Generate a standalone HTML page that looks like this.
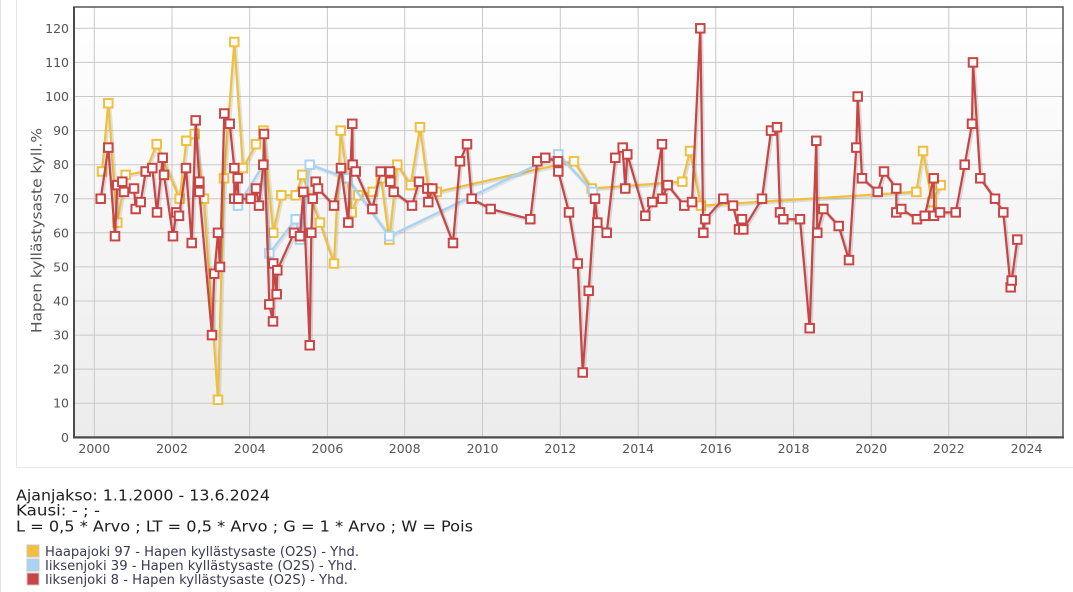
<!DOCTYPE html>
<html><head><meta charset="utf-8"><style>
html,body{margin:0;padding:0;background:#fff;}
svg{display:block;font-family:"DejaVu Sans","Liberation Sans",sans-serif;}
</style></head><body>
<svg width="1073" height="592" viewBox="0 0 1073 592" xmlns="http://www.w3.org/2000/svg">
<defs>
<linearGradient id="bg" x1="0" y1="0" x2="0" y2="1">
<stop offset="0" stop-color="#ffffff"/><stop offset="1" stop-color="#ececec"/>
</linearGradient>
<marker id="my" markerWidth="14" markerHeight="14" refX="7" refY="7" markerUnits="userSpaceOnUse" overflow="visible"><rect x="2.75" y="2.75" width="8.5" height="8.5" fill="#fff" stroke="#efbf3d" stroke-width="2"/></marker>
<marker id="mb" markerWidth="14" markerHeight="14" refX="7" refY="7" markerUnits="userSpaceOnUse" overflow="visible"><rect x="2.75" y="2.75" width="8.5" height="8.5" fill="#fff" stroke="#a9d3f3" stroke-width="2"/></marker>
<marker id="mr" markerWidth="14" markerHeight="14" refX="7" refY="7" markerUnits="userSpaceOnUse" overflow="visible"><rect x="2.75" y="2.75" width="8.5" height="8.5" fill="#fff" stroke="#c94545" stroke-width="2"/></marker>
</defs>
<!-- container borders -->
<line x1="0.5" y1="0" x2="0.5" y2="592" stroke="#e2e2e2" stroke-width="1"/>
<line x1="16.5" y1="0" x2="16.5" y2="467.5" stroke="#e6e6e6" stroke-width="1"/>
<line x1="16" y1="467.5" x2="1073" y2="467.5" stroke="#e6e6e6" stroke-width="1"/>
<!-- plot bg -->
<rect x="74" y="7" width="989" height="430" fill="url(#bg)"/>
<!-- grid -->
<g stroke="#c9c9c9" stroke-width="1">
<line x1="74" x2="1063" y1="28.3" y2="28.3"/>
<line x1="74" x2="1063" y1="62.4" y2="62.4"/>
<line x1="74" x2="1063" y1="96.5" y2="96.5"/>
<line x1="74" x2="1063" y1="130.6" y2="130.6"/>
<line x1="74" x2="1063" y1="164.7" y2="164.7"/>
<line x1="74" x2="1063" y1="198.7" y2="198.7"/>
<line x1="74" x2="1063" y1="232.8" y2="232.8"/>
<line x1="74" x2="1063" y1="266.9" y2="266.9"/>
<line x1="74" x2="1063" y1="301.0" y2="301.0"/>
<line x1="74" x2="1063" y1="335.1" y2="335.1"/>
<line x1="74" x2="1063" y1="369.1" y2="369.1"/>
<line x1="74" x2="1063" y1="403.2" y2="403.2"/>
<line x1="94.3" x2="94.3" y1="7" y2="437"/>
<line x1="172" x2="172" y1="7" y2="437"/>
<line x1="249.7" x2="249.7" y1="7" y2="437"/>
<line x1="327.4" x2="327.4" y1="7" y2="437"/>
<line x1="404.7" x2="404.7" y1="7" y2="437"/>
<line x1="482.5" x2="482.5" y1="7" y2="437"/>
<line x1="560.3" x2="560.3" y1="7" y2="437"/>
<line x1="638.2" x2="638.2" y1="7" y2="437"/>
<line x1="715.8" x2="715.8" y1="7" y2="437"/>
<line x1="793.5" x2="793.5" y1="7" y2="437"/>
<line x1="871.3" x2="871.3" y1="7" y2="437"/>
<line x1="948.8" x2="948.8" y1="7" y2="437"/>
<line x1="1026.5" x2="1026.5" y1="7" y2="437"/>
</g>
<!-- frame -->
<rect x="74" y="7" width="989" height="430" fill="none" stroke="#555" stroke-width="1.5"/>
<line x1="74" y1="6.5" x2="74" y2="438" stroke="#4a4a4a" stroke-width="2"/>
<line x1="73" y1="437.5" x2="1064" y2="437.5" stroke="#4a4a4a" stroke-width="2"/>

<!-- Yellow series -->
<g fill="none" stroke-linejoin="round" stroke-linecap="round">
<path transform="translate(1,1)" stroke="rgba(0,0,0,0.10)" stroke-width="4" d="M102 171.5 L108.3 103.3 L117.3 222.6 L125.7 174.9 L145.7 171.5 L156.7 144.2 L179.7 198.7 L186.3 140.8 L194.7 134 L204 198.7 L218 399.8 L224 178.3 L234.3 42 L243 168.1 L256 144.2 L263.3 130.6 L273.3 232.8 L281.3 195.3 L295.7 195.3 L302.3 174.9 L320 222.6 L334 263.5 L340.7 130.6 L351.7 212.4 L358.3 195.3 L372.7 191.9 L381 178.3 L389.3 239.6 L397.3 164.7 L410.7 185.1 L420 127.2 L428.3 188.5 L436.7 191.9 L558.3 164.7 L574 161.3 L591.7 188.5 L682.3 181.7 L690 151 L701 205.6 L916.3 191.9 L923 151 L932 202.1 L940.7 185.1"/>
<path stroke="#efbf3d" stroke-width="2.2" marker-start="url(#my)" marker-mid="url(#my)" marker-end="url(#my)" d="M102 171.5 L108.3 103.3 L117.3 222.6 L125.7 174.9 L145.7 171.5 L156.7 144.2 L179.7 198.7 L186.3 140.8 L194.7 134 L204 198.7 L218 399.8 L224 178.3 L234.3 42 L243 168.1 L256 144.2 L263.3 130.6 L273.3 232.8 L281.3 195.3 L295.7 195.3 L302.3 174.9 L320 222.6 L334 263.5 L340.7 130.6 L351.7 212.4 L358.3 195.3 L372.7 191.9 L381 178.3 L389.3 239.6 L397.3 164.7 L410.7 185.1 L420 127.2 L428.3 188.5 L436.7 191.9 L558.3 164.7 L574 161.3 L591.7 188.5 L682.3 181.7 L690 151 L701 205.6 L916.3 191.9 L923 151 L932 202.1 L940.7 185.1"/>
</g>

<!-- Blue series -->
<g fill="none" stroke-linejoin="round" stroke-linecap="round">
<path transform="translate(1,1)" stroke="rgba(0,0,0,0.08)" stroke-width="4" d="M238 205.6 L263.3 164.7 L269.3 253.3 L295.7 219.2 L300 239.6 L309.7 164.7 L347.3 178.3 L389.3 236.2 L558.3 154.4 L593 191.9"/>
<path stroke="#a9d3f3" stroke-width="2.4" marker-start="url(#mb)" marker-mid="url(#mb)" marker-end="url(#mb)" d="M238 205.6 L263.3 164.7 L269.3 253.3 L295.7 219.2 L300 239.6 L309.7 164.7 L347.3 178.3 L389.3 236.2 L558.3 154.4 L593 191.9"/>
</g>

<!-- Red series -->
<g fill="none" stroke-linejoin="round" stroke-linecap="round">
<path transform="translate(1,1)" stroke="rgba(0,0,0,0.12)" stroke-width="4" d="M100.7 198.7 L108.3 147.6 L115 236.2 L117.3 185.1 L122.3 181.7 L124 191.9 L134 188.5 L135.7 209 L140.7 202.1 L145.7 171.5 L152.3 168.1 L157 212.4 L162.7 157.8 L164 174.9 L173 236.2 L176.3 212.4 L179 215.8 L186 168.1 L191.7 243 L195.7 120.4 L199.3 181.7 L199.3 191.9 L212 335.1 L214.3 273.7 L218 232.8 L220 266.9 L224.3 113.5 L229.7 123.8 L234.3 168.1 L234.3 198.7 L237.7 178.3 L238.3 198.7 L250.7 198.7 L256 188.5 L259 205.6 L263.3 164.7 L264 134 L269.3 304.4 L273 321.4 L273.3 263.5 L276.7 294.2 L277.3 270.3 L294 232.8 L300 236.2 L303.3 191.9 L309.7 345.3 L311.3 232.8 L312.7 198.7 L315.7 181.7 L318 188.5 L334 205.6 L341 168.1 L348.3 222.6 L352.3 123.8 L352.7 164.7 L355.7 171.5 L372.3 209 L380.7 171.5 L390 171.5 L390.3 181.7 L393.7 191.9 L412 205.6 L419 181.7 L427.3 188.5 L428.3 202.1 L432.3 188.5 L453 243 L460 161.3 L467 144.2 L471.7 198.7 L490.7 209 L530.3 219.2 L537.3 161.3 L545.3 157.8 L558 161.3 L558.3 171.5 L569 212.4 L577.7 263.5 L582.7 372.5 L588.7 290.8 L595 198.7 L597.3 222.6 L606.7 232.8 L615.3 157.8 L622.7 147.6 L625.3 188.5 L627.3 154.4 L645.3 215.8 L652.3 202.1 L662 144.2 L662.3 198.7 L667.7 185.1 L684.3 205.6 L692 202.1 L700.3 28.3 L703.3 232.8 L705.3 219.2 L723.3 198.7 L733 205.6 L739 229.4 L742 219.2 L743.3 229.4 L762 198.7 L771 130.6 L777 127.2 L780 212.4 L783.3 219.2 L800 219.2 L809.7 328.2 L816.3 140.8 L817.3 232.8 L823.3 209 L838.7 226 L849 260.1 L856.3 147.6 L857.7 96.5 L862 178.3 L877.7 191.9 L884 171.5 L896.3 188.5 L896.3 212.4 L901.3 209 L917 219.2 L924.7 215.8 L933.7 178.3 L934 215.8 L940 212.4 L955.7 212.4 L964.7 164.7 L972 123.8 L973 62.4 L980.3 178.3 L995 198.7 L1003.3 212.4 L1010.7 287.3 L1011.7 280.5 L1017.3 239.6"/>
<path stroke="#c94545" stroke-width="2.2" marker-start="url(#mr)" marker-mid="url(#mr)" marker-end="url(#mr)" d="M100.7 198.7 L108.3 147.6 L115 236.2 L117.3 185.1 L122.3 181.7 L124 191.9 L134 188.5 L135.7 209 L140.7 202.1 L145.7 171.5 L152.3 168.1 L157 212.4 L162.7 157.8 L164 174.9 L173 236.2 L176.3 212.4 L179 215.8 L186 168.1 L191.7 243 L195.7 120.4 L199.3 181.7 L199.3 191.9 L212 335.1 L214.3 273.7 L218 232.8 L220 266.9 L224.3 113.5 L229.7 123.8 L234.3 168.1 L234.3 198.7 L237.7 178.3 L238.3 198.7 L250.7 198.7 L256 188.5 L259 205.6 L263.3 164.7 L264 134 L269.3 304.4 L273 321.4 L273.3 263.5 L276.7 294.2 L277.3 270.3 L294 232.8 L300 236.2 L303.3 191.9 L309.7 345.3 L311.3 232.8 L312.7 198.7 L315.7 181.7 L318 188.5 L334 205.6 L341 168.1 L348.3 222.6 L352.3 123.8 L352.7 164.7 L355.7 171.5 L372.3 209 L380.7 171.5 L390 171.5 L390.3 181.7 L393.7 191.9 L412 205.6 L419 181.7 L427.3 188.5 L428.3 202.1 L432.3 188.5 L453 243 L460 161.3 L467 144.2 L471.7 198.7 L490.7 209 L530.3 219.2 L537.3 161.3 L545.3 157.8 L558 161.3 L558.3 171.5 L569 212.4 L577.7 263.5 L582.7 372.5 L588.7 290.8 L595 198.7 L597.3 222.6 L606.7 232.8 L615.3 157.8 L622.7 147.6 L625.3 188.5 L627.3 154.4 L645.3 215.8 L652.3 202.1 L662 144.2 L662.3 198.7 L667.7 185.1 L684.3 205.6 L692 202.1 L700.3 28.3 L703.3 232.8 L705.3 219.2 L723.3 198.7 L733 205.6 L739 229.4 L742 219.2 L743.3 229.4 L762 198.7 L771 130.6 L777 127.2 L780 212.4 L783.3 219.2 L800 219.2 L809.7 328.2 L816.3 140.8 L817.3 232.8 L823.3 209 L838.7 226 L849 260.1 L856.3 147.6 L857.7 96.5 L862 178.3 L877.7 191.9 L884 171.5 L896.3 188.5 L896.3 212.4 L901.3 209 L917 219.2 L924.7 215.8 L933.7 178.3 L934 215.8 L940 212.4 L955.7 212.4 L964.7 164.7 L972 123.8 L973 62.4 L980.3 178.3 L995 198.7 L1003.3 212.4 L1010.7 287.3 L1011.7 280.5 L1017.3 239.6"/>
</g>

<!-- Y axis labels -->
<g fill="#555" font-size="12.5" text-anchor="end">
<text x="69" y="441.8">0</text>
<text x="69" y="407.7">10</text>
<text x="69" y="373.6">20</text>
<text x="69" y="339.6">30</text>
<text x="69" y="305.5">40</text>
<text x="69" y="271.4">50</text>
<text x="69" y="237.3">60</text>
<text x="69" y="203.2">70</text>
<text x="69" y="169.2">80</text>
<text x="69" y="135.1">90</text>
<text x="69" y="101.0">100</text>
<text x="69" y="66.9">110</text>
<text x="69" y="32.8">120</text>
</g>
<!-- X axis labels -->
<g fill="#555" font-size="12.5" text-anchor="middle">
<text x="94.3" y="453">2000</text>
<text x="172" y="453">2002</text>
<text x="249.7" y="453">2004</text>
<text x="327.4" y="453">2006</text>
<text x="404.7" y="453">2008</text>
<text x="482.5" y="453">2010</text>
<text x="560.3" y="453">2012</text>
<text x="638.2" y="453">2014</text>
<text x="715.8" y="453">2016</text>
<text x="793.5" y="453">2018</text>
<text x="871.3" y="453">2020</text>
<text x="948.8" y="453">2022</text>
<text x="1026.5" y="453">2024</text>
</g>
<!-- Y axis title -->
<text transform="translate(41.7,230.5) rotate(-90)" text-anchor="middle" fill="#555" font-size="14.5" textLength="205" lengthAdjust="spacingAndGlyphs">Hapen kyllästysaste kyll.%</text>

<!-- Info text -->
<g fill="#1e1e1e" font-size="15">
<text x="16" y="500.7" textLength="254" lengthAdjust="spacingAndGlyphs">Ajanjakso: 1.1.2000 - 13.6.2024</text>
<text x="16" y="515.5" textLength="84" lengthAdjust="spacingAndGlyphs">Kausi: - ; -</text>
<text x="16" y="531.5" textLength="457" lengthAdjust="spacingAndGlyphs">L = 0,5 * Arvo ; LT = 0,5 * Arvo ; G = 1 * Arvo ; W = Pois</text>
</g>
<!-- Legend -->
<g stroke="#c8c8c8" stroke-width="1">
<rect x="27" y="545" width="12" height="12" fill="#efbf3d"/>
<rect x="27" y="559" width="12" height="12" fill="#a9d3f3"/>
<rect x="27" y="573" width="12" height="12" fill="#c94545"/>
</g>
<g fill="#3a3a52" font-size="13">
<text x="45" y="556" textLength="314" lengthAdjust="spacingAndGlyphs">Haapajoki 97 - Hapen kyllästysaste (O2S) - Yhd.</text>
<text x="45" y="570" textLength="312" lengthAdjust="spacingAndGlyphs">Iiksenjoki 39 - Hapen kyllästysaste (O2S) - Yhd.</text>
<text x="45" y="584" textLength="303" lengthAdjust="spacingAndGlyphs">Iiksenjoki 8 - Hapen kyllästysaste (O2S) - Yhd.</text>
</g>
</svg>
</body></html>
